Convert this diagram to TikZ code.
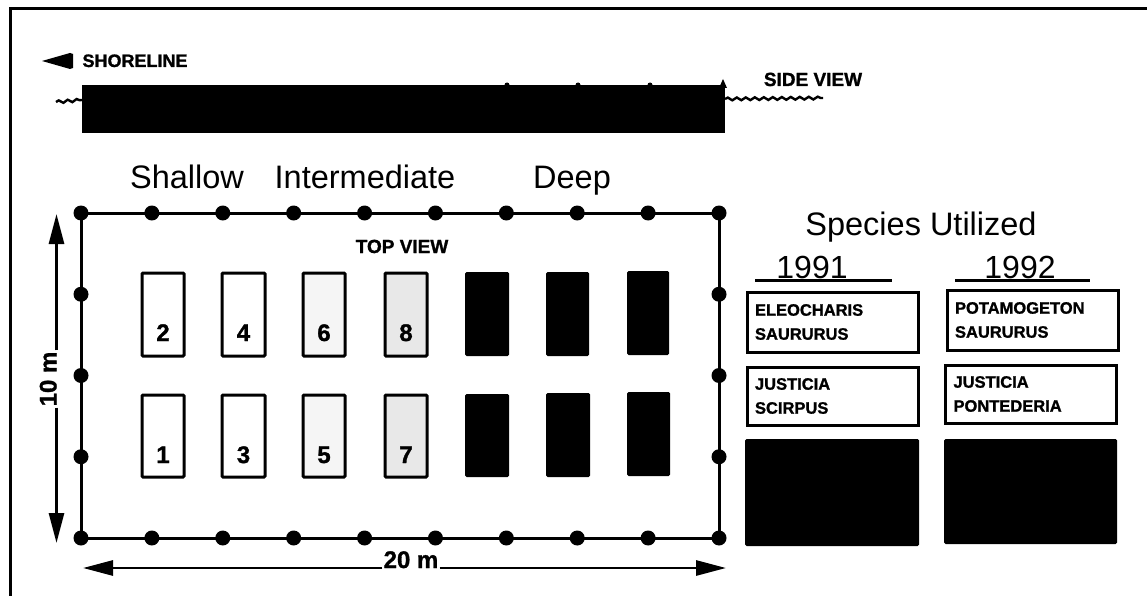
\documentclass[tikz,border=0pt]{standalone}
\usepackage{fontspec}
\setmainfont{Liberation Sans}
\newfontfamily\heavyfont[BoldFeatures={FakeBold=1.2}]{Liberation Sans}
\usepackage{tikz}
\usetikzlibrary{arrows.meta, positioning, decorations.pathmorphing}
\definecolor{ink}{HTML}{000000}
\definecolor{haze}{HTML}{F5F5F5}
\definecolor{stipple}{HTML}{E8E8E8}

\tikzset{
  stake/.style={fill=ink},
  plotbox/.style={draw=ink, line width=3pt, rounded corners=1pt},
  darkplot/.style={fill=ink, rounded corners=1.5pt},
  plotnum/.style={font=\fontsize{24}{28}\selectfont\heavyfont\bfseries, anchor=base},
  depthlabel/.style={font=\fontsize{32.5}{38}\selectfont, anchor=base},
  caps/.style={font=\fontsize{19}{22}\selectfont\heavyfont\bfseries, anchor=base},
  spbox/.style={draw=ink, line width=3pt, align=left, text width=155pt, inner xsep=8pt,
    minimum height=#1, font=\fontsize{16.5}{24}\selectfont\heavyfont\bfseries},
  dimlabel/.style={font=\fontsize{24}{28}\selectfont\heavyfont\bfseries, anchor=base, inner sep=1pt},
  dimline/.style={line width=2.8pt, -{Triangle[length=30pt, width=15pt]}},
  water/.style={line width=2.4pt, decorate, decoration={snake, segment length=9pt, amplitude=1.4pt}}
}

\begin{document}
\begin{tikzpicture}[x=1pt, y=-1pt]
\useasboundingbox (0,0) rectangle (1147,596);
% page frame
\draw[line width=3pt] (10,596) -- (10,9) -- (1147,9);

% side view
\coordinate (shoretip) at (42,61);
\fill[ink] (shoretip) -- (70,53) -- (73,54) -- (73,68) -- (70,69) -- cycle;
\node[caps, anchor=base west, font=\fontsize{18}{22}\selectfont\heavyfont\bfseries] (shore) at (79,67) {SHORELINE};
\fill[ink] (82,85) rectangle (725,133);
\foreach \bx in {507, 578, 650} \fill[ink] (\bx,85) circle (2.5);
\fill[ink] (719,88) -- (723,79) -- (727,88) -- cycle;
\draw[water] (56,102) -- (82,100);
\draw[water] (725,99) -- (823,98);
\node[caps] (side) at (813,86) {SIDE VIEW};

% depth zones
\node[depthlabel] (shallow) at (187,188) {Shallow};
\node[depthlabel] (inter) at (365,188) {Intermediate};
\node[depthlabel] (deep) at (572,188) {Deep};

% enclosure with stakes
\draw[line width=3pt] (81,213) rectangle (719,538);
\foreach \k in {0,...,9} {
  \fill[stake] ({81+70.89*\k},213) circle (7.5);
  \fill[stake] ({81+70.89*\k},538) circle (7.5);
}
\foreach \k in {1,2,3} {
  \fill[stake] (81,{213+81.25*\k}) circle (7.5);
  \fill[stake] (719,{213+81.25*\k}) circle (7.5);
}
\node[caps] (topview) at (402,253) {TOP VIEW};

% shallow plots
\draw[plotbox] (142,273) rectangle (184,356);
\node[plotnum] (n2) at (163,341) {2};
\draw[plotbox] (142,395) rectangle (184,477);
\node[plotnum] (n1) at (163,463) {1};
\draw[plotbox] (222,273) rectangle (265,356);
\node[plotnum] (n4) at (243.5,341) {4};
\draw[plotbox] (222,395) rectangle (265,477);
\node[plotnum] (n3) at (243.5,463) {3};

% intermediate plots
\draw[plotbox, fill=haze] (303,273) rectangle (345,356);
\node[plotnum] (n6) at (324,341) {6};
\draw[plotbox, fill=haze] (303,395) rectangle (345,477);
\node[plotnum] (n5) at (324,463) {5};
\draw[plotbox, fill=stipple] (385,273) rectangle (427,356);
\node[plotnum] (n8) at (406,341) {8};
\draw[plotbox, fill=stipple] (385,395) rectangle (427,477);
\node[plotnum] (n7) at (406,463) {7};

% deep plots
\fill[darkplot] (465,272) rectangle (509,356);
\fill[darkplot] (465,394) rectangle (509,477);
\fill[darkplot] (546,272) rectangle (589,356);
\fill[darkplot] (546,393) rectangle (590,477);
\fill[darkplot] (627,271) rectangle (669,355);
\fill[darkplot] (627,392) rectangle (670,476);

% dimensions
\coordinate (top10) at (56.5,214);
\coordinate (bot10) at (56.5,543);
\node[dimlabel, rotate=90] (tenm) at (56.5,379) {10 m};
\draw[dimline] (tenm.base east) -- (top10);
\draw[dimline] (tenm.base west) -- (bot10);
\coordinate (left20) at (83,568);
\coordinate (right20) at (726,568);
\node[dimlabel] (twentym) at (411,568) {20 m};
\draw[dimline] (twentym.base west) -- (left20);
\draw[dimline] (twentym.base east) -- (right20);

% species utilized
\node[depthlabel] (species) at (921,235) {Species Utilized};
\node[depthlabel, font=\fontsize{32}{38}\selectfont] (y91) at (812,278) {1991};
\draw[line width=3pt] (755,280) -- (892,280);
\node[depthlabel, font=\fontsize{32}{38}\selectfont] (y92) at (1020,278) {1992};
\draw[line width=3pt] (955,280) -- (1090,280);

\node[spbox=60pt] (b91a) at (832.5,322) {ELEOCHARIS\\SAURURUS};
\node[spbox=60pt] (b92a) at (1032.5,320) {POTAMOGETON\\SAURURUS};
\node[spbox=58pt] (b91b) at (832.5,396) {JUSTICIA\\SCIRPUS};
\node[spbox=58pt] (b92b) at (1031,394) {JUSTICIA\\PONTEDERIA};
\fill[darkplot] (745,439) rectangle (919,546);
\fill[darkplot] (944,439) rectangle (1117,544);
\end{tikzpicture}
\end{document}
